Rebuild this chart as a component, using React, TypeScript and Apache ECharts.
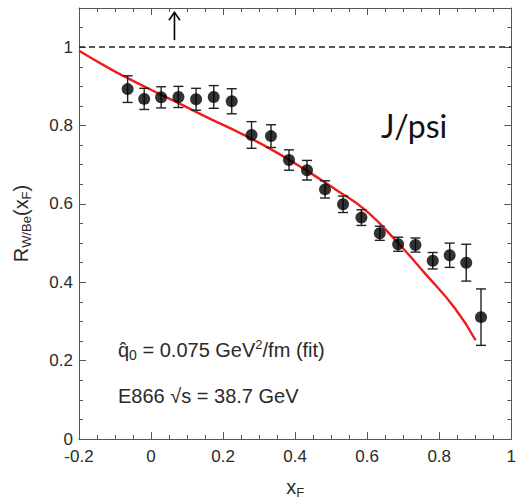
import React, { useEffect, useRef } from "react";
import * as echarts from "echarts";

// Measured nuclear modification ratio W/Be for J/psi vs x_F
const xF = [-0.065, -0.019, 0.028, 0.076, 0.125, 0.174, 0.224, 0.279, 0.333, 0.383, 0.433, 0.483, 0.533, 0.584, 0.635, 0.686, 0.734, 0.782, 0.829, 0.875, 0.916];
const ratio = [0.893, 0.868, 0.872, 0.873, 0.867, 0.873, 0.862, 0.776, 0.773, 0.712, 0.686, 0.637, 0.599, 0.565, 0.525, 0.497, 0.495, 0.455, 0.469, 0.450, 0.311];
const errors = [0.034, 0.027, 0.027, 0.027, 0.028, 0.029, 0.032, 0.034, 0.029, 0.026, 0.025, 0.022, 0.021, 0.020, 0.018, 0.018, 0.018, 0.021, 0.031, 0.047, 0.072];

// Energy-loss fit curve
const fitX = [-0.2, -0.116, -0.065, 0.027, 0.068, 0.16, 0.253, 0.336, 0.42, 0.512, 0.595, 0.678, 0.761, 0.844, 0.901];
const fitR = [0.991, 0.946, 0.921, 0.879, 0.861, 0.819, 0.778, 0.738, 0.692, 0.637, 0.584, 0.508, 0.422, 0.333, 0.252];

// Reference level and the arrow marking it
const unityLevel = 1;
const arrowX = 0.065;
const arrowFrom = 1.018;
const arrowTo = 1.089;

const xTicks = { min: -0.2, max: 1, interval: 0.2 };
const yTicks = { min: 0, max: 1.1, interval: 0.2, minor: 0.05 };

const AXIS_COLOR = "#555";
const TEXT_COLOR = "#2a2a2a";
const FONT = "Liberation Sans";

const fmt = (v: number) => String(parseFloat(v.toFixed(2)));

export default function App() {
  const ref = useRef<HTMLDivElement>(null);

  useEffect(() => {
    if (!ref.current) return;
    const chart = echarts.init(ref.current, undefined, { renderer: "svg" });

    const points = xF.map((x, i) => [x, ratio[i]]);
    const bars = xF.map((x, i) => [x, ratio[i] - errors[i], ratio[i] + errors[i]]);
    const fit = fitX.map((x, i) => [x, fitR[i]]);

    const tickLine = { color: AXIS_COLOR, width: 1 };

    const xAxisBase = {
      type: "value",
      min: xTicks.min,
      max: xTicks.max,
      interval: xTicks.interval,
      splitLine: { show: false },
      axisLine: { onZero: false, lineStyle: { color: AXIS_COLOR, width: 1 } },
      axisTick: { inside: true, length: 7, lineStyle: tickLine },
      minorTick: { show: true, splitNumber: 4, length: 4, lineStyle: tickLine },
    };

    const yMajor = {
      type: "value",
      min: yTicks.min,
      max: yTicks.max,
      interval: yTicks.interval,
      splitLine: { show: false },
      axisLine: { show: true, onZero: false, lineStyle: { color: AXIS_COLOR, width: 1 } },
      axisTick: { inside: true, length: 7, lineStyle: tickLine },
    };
    const yMinor = {
      type: "value",
      min: yTicks.min,
      max: yTicks.max,
      interval: yTicks.minor,
      splitLine: { show: false },
      axisLine: { show: false, onZero: false },
      axisLabel: { show: false },
      axisTick: { inside: true, length: 4, lineStyle: tickLine },
    };

    const option: any = {
      animation: false,
      grid: { left: 79, right: 6, top: 8, bottom: 61 },
      xAxis: [
        {
          ...xAxisBase,
          position: "bottom",
          axisLabel: { fontSize: 17, color: TEXT_COLOR, fontFamily: FONT, margin: 9, formatter: fmt },
          name: "{m|x}{s|F}",
          nameLocation: "middle",
          nameGap: 36,
          nameTextStyle: {
            rich: {
              m: { fontSize: 20, fontFamily: FONT, color: TEXT_COLOR, lineHeight: 24 },
              s: { fontSize: 13, fontFamily: FONT, color: TEXT_COLOR, lineHeight: 10, verticalAlign: "bottom" },
            },
          },
        },
        { ...xAxisBase, position: "top", axisLabel: { show: false } },
      ],
      yAxis: [
        {
          ...yMajor,
          position: "left",
          axisLabel: {
            fontSize: 17,
            color: TEXT_COLOR,
            fontFamily: FONT,
            margin: 6,
            showMaxLabel: false,
            formatter: (v: number) => (v > 1.0001 ? "" : fmt(v)),
          },
          name: "{m|R}{s|W/Be}{m|(x}{s|F}{m|)}",
          nameLocation: "middle",
          nameRotate: 90,
          nameGap: 46,
          nameTextStyle: {
            rich: {
              m: { fontSize: 20, fontFamily: FONT, color: TEXT_COLOR, lineHeight: 24 },
              s: { fontSize: 13, fontFamily: FONT, color: TEXT_COLOR, lineHeight: 10, verticalAlign: "bottom" },
            },
          },
        },
        { ...yMinor, position: "left" },
        { ...yMajor, position: "right", axisLabel: { show: false } },
        { ...yMinor, position: "right" },
      ],
      series: [
        {
          type: "line",
          name: "fit",
          data: fit,
          smooth: 0.5,
          showSymbol: false,
          lineStyle: { color: "#f01c1c", width: 2.4 },
          z: 3,
          markLine: {
            silent: true,
            symbol: "none",
            label: { show: false },
            lineStyle: { color: "#222", width: 1.5, type: [6, 4] },
            data: [{ yAxis: unityLevel }],
          },
        },
        {
          type: "custom",
          name: "errors",
          data: bars,
          z: 4,
          renderItem: (params: any, api: any) => {
            const x = api.value(0);
            const lo = api.coord([x, api.value(1)]);
            const hi = api.coord([x, api.value(2)]);
            const w = 5;
            const style = { stroke: "#222", lineWidth: 1.4, fill: "none" };
            return {
              type: "group",
              children: [
                { type: "line", shape: { x1: lo[0], y1: lo[1], x2: hi[0], y2: hi[1] }, style },
                { type: "line", shape: { x1: lo[0] - w, y1: lo[1], x2: lo[0] + w, y2: lo[1] }, style },
                { type: "line", shape: { x1: hi[0] - w, y1: hi[1], x2: hi[0] + w, y2: hi[1] }, style },
              ],
            };
          },
        },
        {
          type: "scatter",
          name: "data",
          data: points,
          symbol: "circle",
          symbolSize: 12,
          itemStyle: { color: "#000" },
          z: 5,
        },
        {
          type: "custom",
          name: "arrow",
          data: [[arrowX, arrowFrom, arrowTo]],
          z: 4,
          renderItem: (params: any, api: any) => {
            const x = api.value(0);
            const a = api.coord([x, api.value(1)]);
            const b = api.coord([x, api.value(2)]);
            const style = { stroke: "#000", lineWidth: 1.6, fill: "none" };
            return {
              type: "group",
              children: [
                { type: "line", shape: { x1: a[0], y1: a[1], x2: b[0], y2: b[1] }, style },
                {
                  type: "polyline",
                  shape: { points: [[b[0] - 5.5, b[1] + 8], [b[0], b[1]], [b[0] + 5.5, b[1] + 8]] },
                  style,
                },
              ],
            };
          },
        },
      ],
      graphic: [
        {
          type: "text",
          x: 118,
          y: 350,
          style: {
            text: "{m|q\u0302}{s|0}{m| = 0.075 GeV}{p|2}{m|/fm (fit)}",
            verticalAlign: "middle",
            rich: {
              m: { fontSize: 20, fontFamily: FONT, fill: TEXT_COLOR, lineHeight: 24 },
              s: { fontSize: 14, fontFamily: FONT, fill: TEXT_COLOR, lineHeight: 10, verticalAlign: "bottom" },
              p: { fontSize: 13, fontFamily: FONT, fill: TEXT_COLOR, lineHeight: 12, verticalAlign: "top" },
            },
          },
        },
        {
          type: "text",
          x: 118,
          y: 396,
          style: {
            text: "E866 \u221As = 38.7 GeV",
            fontSize: 20,
            fontFamily: FONT,
            fill: TEXT_COLOR,
            verticalAlign: "middle",
          },
        },
        {
          type: "text",
          x: 381,
          y: 125,
          style: {
            text: "J/psi",
            fontSize: 32,
            fontFamily: "Lato",
            fill: "#111",
            verticalAlign: "middle",
          },
        },
      ],
    };

    chart.setOption(option);
    return () => chart.dispose();
  }, []);

  return (
    <div
      ref={ref}
      style={{ position: "fixed", left: 0, top: 0, width: 519, height: 504, background: "#fff" }}
    />
  );
}
